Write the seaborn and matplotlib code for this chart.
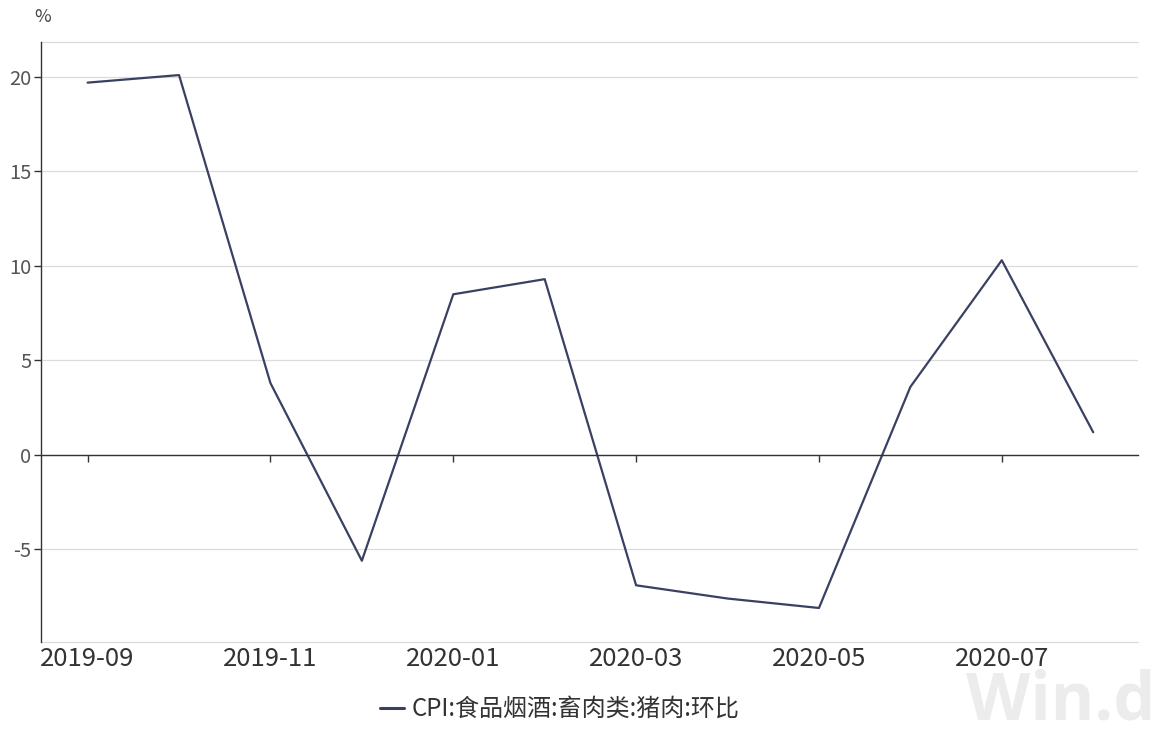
import matplotlib
matplotlib.use("Agg")
import matplotlib.pyplot as plt
import seaborn as sns
import pandas as pd
import numpy as np

months = ["2019-09", "2019-10", "2019-11", "2019-12", "2020-01", "2020-02",
          "2020-03", "2020-04", "2020-05", "2020-06", "2020-07", "2020-08"]
values = [19.7, 20.1, 3.8, -5.6, 8.5, 9.3, -6.9, -7.6, -8.1, 3.6, 10.3, 1.2]
series_name = "CPI:食品烟酒:畜肉类:猪肉:环比"
y_ticks = [-5, 0, 5, 10, 15, 20]

sns.set_theme(style="white")
plt.rcParams['font.family'] = ['Noto Sans CJK SC', 'DejaVu Sans']

df = pd.DataFrame({"idx": np.arange(len(months)), "value": values, "series": series_name})

fig = plt.figure(figsize=(11.64, 7.37), dpi=100)

# watermark (drawn first, behind everything)
fig.text(1155/1164, 2/737, "Win.d", fontsize=48, color="#ececec", ha="right",
         va="bottom", family=["Open Sans", "DejaVu Sans"], fontweight="bold", zorder=0)

ax = fig.add_axes([41/1164, 1-642/737, (1138-41)/1164, (642-42)/737])
ax.patch.set_alpha(0)

line_color = "#3a4062"
sns.lineplot(data=df, x="idx", y="value", ax=ax, color=line_color, linewidth=1.6,
             legend=False)

ax.set_xlim(-0.51, 11.49)
ax.set_ylim(-9.9, 21.85)
ax.set_yticks(y_ticks)
ax.set_yticklabels([str(v) for v in y_ticks], fontsize=14.5, color="#555555")
ax.yaxis.grid(True, color="#dcdcdc", linewidth=0.9)
ax.xaxis.grid(False)
ax.set_xlabel("")
ax.set_ylabel("")

for s in ["top", "right"]:
    ax.spines[s].set_visible(False)
ax.spines["left"].set_color("#333333")
ax.spines["left"].set_linewidth(1.0)
ax.spines["bottom"].set_position(("data", 0))
ax.spines["bottom"].set_color("#333333")
ax.spines["bottom"].set_linewidth(1.0)

ax.tick_params(axis="y", which="both", left=True, length=5, color="#333333", width=1, pad=2)
label_idx = list(range(0, len(months), 2))
ax.set_xticks(label_idx)
ax.set_xticklabels([])
ax.tick_params(axis="x", bottom=True, length=5, color="#333333", width=1, direction="out")

# tick labels at the bottom of plot area
sec = ax.secondary_xaxis("bottom")
sec.set_xticks(label_idx)
sec.set_xticklabels([months[i] for i in label_idx], fontsize=18.5, color="#333333")
sec.tick_params(length=0, pad=3)
sec.spines["bottom"].set_color("#dcdcdc")
sec.spines["bottom"].set_linewidth(0.9)

# top gridline border
ax.axhline(ax.get_ylim()[1], color="#dcdcdc", linewidth=0.9, clip_on=False)

fig.text(34/1164, 1-17/737, "%", fontsize=13, color="#444444", ha="left", va="center")

from matplotlib.lines import Line2D
handle = Line2D([], [], color=line_color, linewidth=2.2)
fig.legend([handle], [series_name], loc="center", bbox_to_anchor=(560/1164, 1-709/737),
           frameon=False, fontsize=17.3, handlelength=1.0, handletextpad=0.3,
           labelcolor="#333333")

fig.savefig("out.png", dpi=100, facecolor="white")
